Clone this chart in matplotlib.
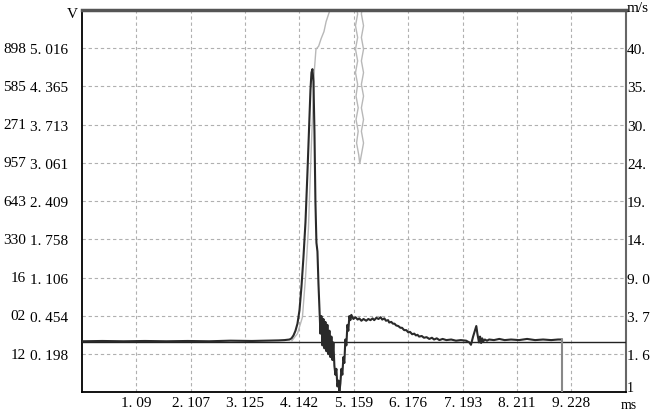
import matplotlib.pyplot as plt

# time axis (ms) and voltage axis (V)
x_ticks = [1.09, 2.107, 3.125, 4.142, 5.159, 6.176, 7.193, 8.211, 9.228]
x_labels = ["1. 09", "2. 107", "3. 125", "4. 142", "5. 159", "6. 176", "7. 193", "8. 211", "9. 228"]
v_ticks = [-0.198, 0.454, 1.106, 1.758, 2.409, 3.061, 3.713, 4.365, 5.016]
v_labels = ["0. 198", "0. 454", "1. 106", "1. 758", "2. 409", "3. 061", "3. 713", "4. 365", "5. 016"]
ms_labels = ["1. 6", "3. 7", "9. 0", "14.", "19.", "24.", "30.", "35.", "40."]
outer_labels = ["12", "02", "16", "330", "643", "957", "271", "585", "898"]

# dark trace (V)
t_v = [0.073, 0.45, 0.85, 1.25, 1.65, 2.05, 2.45, 2.85, 3.25, 3.55, 3.75, 3.862, 3.955, 3.993,
       4.030, 4.067, 4.104, 4.142, 4.179, 4.216, 4.254, 4.291, 4.328, 4.347, 4.366, 4.384,
       4.403, 4.422, 4.440, 4.459, 4.478, 4.497, 4.515, 4.534, 4.552, 4.571, 4.590, 4.608,
       4.627, 4.646, 4.664, 4.683, 4.702, 4.720, 4.739, 4.758, 4.776, 4.795, 4.814, 4.832,
       4.851, 4.870, 4.888, 4.907, 4.926, 4.944, 4.963, 4.981, 5.000, 5.019, 5.038, 5.056,
       5.075, 5.094, 5.112, 5.15, 5.19, 5.23, 5.26, 5.30, 5.34, 5.39, 5.43, 5.47, 5.51, 5.54,
       5.58, 5.62, 5.66, 5.69, 5.73, 5.76, 5.80, 5.82, 5.86, 5.89, 5.92, 5.95, 5.99, 6.03,
       6.06, 6.10, 6.14, 6.18, 6.21, 6.25, 6.29, 6.32, 6.35, 6.38, 6.43, 6.47, 6.52, 6.57,
       6.62, 6.66, 6.71, 6.76, 6.82, 6.89, 6.98, 7.07, 7.16, 7.26, 7.30, 7.32, 7.35, 7.39,
       7.43, 7.45, 7.47, 7.50, 7.52, 7.54, 7.56, 7.58, 7.61, 7.65, 7.69, 7.78, 7.88, 7.98,
       8.10, 8.25, 8.40, 8.55, 8.70, 8.85, 8.98, 9.05]
v_dark = [0.02, 0.025, 0.02, 0.025, 0.02, 0.025, 0.02, 0.03, 0.025, 0.03, 0.035, 0.04, 0.05, 0.07,
          0.12, 0.20, 0.32, 0.55, 0.95, 1.45, 2.05, 2.9, 3.8, 4.3, 4.60, 4.66,
          4.45, 3.6, 2.4, 1.7, 1.55, 1.0, 0.6, 0.15, 0.45, -0.05, 0.40, -0.10,
          0.35, -0.15, 0.30, -0.20, 0.20, -0.25, 0.10, -0.30, 0.0, -0.40, -0.55, -0.45,
          -0.75, -0.65, -0.84, -0.70, -0.45, -0.55, -0.25, -0.35, 0.05, -0.05, 0.30, 0.20,
          0.45, 0.38, 0.47, 0.40, 0.43, 0.39, 0.41, 0.37, 0.40, 0.37, 0.40, 0.38, 0.41, 0.38,
          0.42, 0.40, 0.43, 0.39, 0.41, 0.37, 0.38, 0.34, 0.35, 0.32, 0.32, 0.29, 0.28, 0.25,
          0.25, 0.21, 0.21, 0.17, 0.18, 0.14, 0.15, 0.12, 0.13, 0.10, 0.11, 0.08, 0.09, 0.06,
          0.08, 0.05, 0.07, 0.04, 0.06, 0.04, 0.05, 0.03, 0.04, 0.03, 0.01, 0.0, -0.04, 0.10,
          0.22, 0.28, 0.15, 0.0, 0.10, -0.01, 0.07, 0.02, 0.05, 0.03, 0.05, 0.04, 0.06, 0.04,
          0.05, 0.04, 0.06, 0.04, 0.05, 0.04, 0.05, 0.05]

# light trace (velocity), runs off the top of the scale
t_g = [4.000, 4.104, 4.197, 4.254, 4.309, 4.366, 4.422, 4.450, 4.50, 4.547, 4.60, 4.640,
       4.702, 4.776, 4.95, 5.15,
       5.19, 5.23, 5.19, 5.23, 5.19, 5.23, 5.19, 5.23, 5.20, 5.24, 5.20, 5.24, 5.21, 5.25,
       5.27,
       5.30, 5.34, 5.30, 5.34, 5.30, 5.34, 5.30, 5.34, 5.30, 5.34, 5.30, 5.34, 5.30, 5.34]
v_g = [0.03, 0.15, 0.43, 1.1, 1.94, 3.4, 4.66, 5.0, 5.05, 5.18, 5.30, 5.47,
       5.64, 6.2, 7.0, 7.0,
       5.8, 5.6, 5.4, 5.2, 5.0, 4.8, 4.6, 4.4, 4.2, 4.0, 3.8, 3.6, 3.4, 3.2,
       3.05,
       3.2, 3.4, 3.6, 3.8, 4.0, 4.2, 4.4, 4.6, 4.8, 5.0, 5.2, 5.4, 5.6, 5.9]

plt.rcParams['font.family'] = ['Liberation Serif', 'DejaVu Serif']
plt.rcParams['font.size'] = 11

fig = plt.figure(figsize=(6.52, 4.14), dpi=100)
W, H = 652, 414
ax = fig.add_axes([82 / W, 1 - 393.3 / H, 543.7 / W, 382.3 / H])

ax.set_xlim(0.073, 10.245)
ax.set_ylim(-0.85, 5.668)

ax.grid(True, color='#b0b0b0', linestyle=(0, (3, 2.5)), linewidth=0.8)
ax.axhline(0, color='#222222', linewidth=1.0, zorder=3)

ax.plot(t_g, v_g, color='#b8b8b8', linewidth=1.0, zorder=2)
ax.plot(t_v, v_dark, color='#2a2a2a', linewidth=1.5, zorder=4)
ax.plot([t_v[-1], t_v[-1]], [v_dark[-1], -0.9], color='#888888', linewidth=1.5, zorder=4)

ax.set_xticks(x_ticks)
ax.set_xticklabels(x_labels)
ax.set_yticks(v_ticks)
ax.set_yticklabels(v_labels)
ax.tick_params(axis='both', length=0)
ax.tick_params(axis='x', pad=3)
ax.tick_params(axis='y', pad=10)

for s in ['left', 'bottom']:
    ax.spines[s].set_color('black')
    ax.spines[s].set_linewidth(1.3)
ax.spines['top'].set_color('#555555')
ax.spines['top'].set_linewidth(2.5)
ax.spines['right'].set_color('#666666')
ax.spines['right'].set_linewidth(1.5)

ax2 = ax.twinx()
ax2.set_ylim(ax.get_ylim())
ax2.set_yticks(v_ticks)
ax2.set_yticklabels(ms_labels)
ax2.tick_params(axis='y', length=0, pad=1)
for s in ax2.spines.values():
    s.set_visible(False)

# unit labels
fig.text(72 / W, 1 - 15 / H, "V", ha='center', va='center')
fig.text(627 / W, 1 - 8 / H, "m/s", ha='left', va='center')
fig.text(630 / W, 1 - 389 / H, "1", ha='center', va='center', fontsize=10)
fig.text(629 / W, 1 - 406 / H, "ms", ha='center', va='center', fontsize=10)

# clipped labels of another scale at the left edge
for v, lab in zip(v_ticks, outer_labels):
    y_fig = ax.transData.transform((0.073, v))[1] / fig.dpi / 4.14
    fig.text(26 / W, y_fig, lab, ha='right', va='center')

fig.savefig("out.png", dpi=100)
